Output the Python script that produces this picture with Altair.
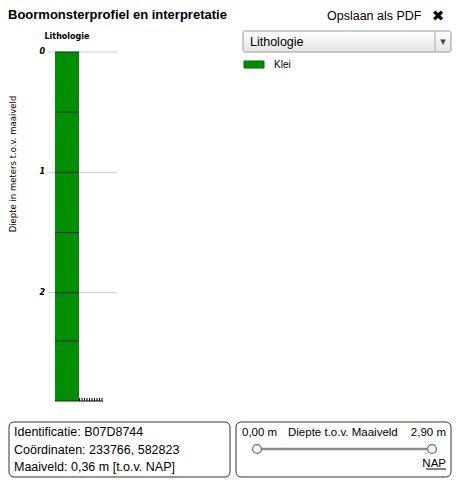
import altair as alt
import pandas as pd

# ---- data ----
depth_top = [0.0, 0.5, 1.0, 1.5, 2.0, 2.4]
depth_bottom = [0.5, 1.0, 1.5, 2.0, 2.4, 2.9]
lithology = ["Klei", "Klei", "Klei", "Klei", "Klei", "Klei"]
depth_ticks = [0, 1, 2]
litho_names = ["Klei"]
litho_colors = ["#008f00"]

title_text = "Boormonsterprofiel en interpretatie"
column_title = "Lithologie"
axis_title = "Diepte in meters t.o.v. maaiveld"
info_lines = ["Identificatie: B07D8744", "Coördinaten: 233766, 582823", "Maaiveld: 0,36 m [t.o.v. NAP]"]
slider_labels = ["0,00 m", "Diepte t.o.v. Maaiveld", "2,90 m"]

FONT = "Liberation Sans"

layers_df = pd.DataFrame({"top": depth_top, "bottom": depth_bottom, "lith": lithology})
bounds_df = pd.DataFrame({"depth": depth_top + [depth_bottom[-1]]})
ticks_df = pd.DataFrame({"depth": depth_ticks, "label": [str(t) for t in depth_ticks]})
end_df = pd.DataFrame({"depth": [depth_bottom[-1]]})

yscale = alt.Scale(domain=[0, depth_bottom[-1]], range=[44, 393], nice=False, zero=False)
one = pd.DataFrame({"k": [0]})


def txt(text, x, y, size=12, weight="normal", align="left", baseline="alphabetic", angle=0, style="normal", color="#000", font=FONT):
    return alt.Chart(one).mark_text(
        text=text, fontSize=size, fontWeight=weight, align=align, baseline=baseline,
        angle=angle, fontStyle=style, color=color, font=font
    ).encode(x=alt.value(x), y=alt.value(y))


def box(x, x2, y, y2, fill="#fff", stroke="#333", radius=0, sw=1):
    return alt.Chart(one).mark_rect(fill=fill, stroke=stroke, cornerRadius=radius, strokeWidth=sw).encode(
        x=alt.value(x), x2=alt.value(x2), y=alt.value(y), y2=alt.value(y2))


def hline(x, x2, y, color="#000", sw=1):
    return alt.Chart(one).mark_rule(color=color, strokeWidth=sw).encode(
        x=alt.value(x), x2=alt.value(x2), y=alt.value(y))


grid = alt.Chart(ticks_df).mark_rule(color="#cccccc").encode(
    x=alt.value(40), x2=alt.value(109),
    y=alt.Y("depth:Q", scale=yscale, axis=None))

bars = alt.Chart(layers_df).mark_rect().encode(
    x=alt.value(47), x2=alt.value(71),
    y=alt.Y("top:Q", scale=yscale, axis=None), y2="bottom:Q",
    color=alt.Color("lith:N", scale=alt.Scale(domain=litho_names, range=litho_colors), legend=None))

bounds = alt.Chart(bounds_df).mark_rule(color="#1d2a1d").encode(
    x=alt.value(47), x2=alt.value(71), y=alt.Y("depth:Q", scale=yscale, axis=None))

tick_labels = alt.Chart(ticks_df).mark_text(
    font="DejaVu Sans", fontSize=8, fontWeight="bold", fontStyle="italic", align="right", baseline="middle"
).encode(x=alt.value(37), y=alt.Y("depth:Q", scale=yscale, axis=None), text="label:N")

ruler = alt.Chart(end_df).mark_rule(color="#000").encode(
    x=alt.value(71), x2=alt.value(95), y=alt.Y("depth:Q", scale=yscale, axis=None))
ruler_ticks = alt.Chart(end_df).mark_rule(color="#000", strokeDash=[1, 1.5], strokeWidth=3, yOffset=-1.5).encode(
    x=alt.value(71), x2=alt.value(95), y=alt.Y("depth:Q", scale=yscale, axis=None))

grad = alt.LinearGradient(gradient="linear", x1=0, x2=0, y1=0, y2=1,
                          stops=[alt.GradientStop(color="#ffffff", offset=0),
                                 alt.GradientStop(color="#e4e4e4", offset=1)])
dropdown = alt.Chart(one).mark_rect(fill=grad, stroke="#9a9a9a", cornerRadius=2).encode(
    x=alt.value(235), x2=alt.value(443), y=alt.value(23), y2=alt.value(44))
divider = alt.Chart(one).mark_rule(color="#a8a8a8").encode(
    x=alt.value(427), y=alt.value(24), y2=alt.value(43))

slider_line = hline(249, 424, 441, color="#8a8a8a", sw=2.5)
knobs = alt.Chart(pd.DataFrame({"k": [0, 1]})).mark_point(
    filled=True, fill="#f4f4f4", stroke="#777", strokeWidth=1.2, size=80, opacity=1, shape="circle"
).encode(x=alt.X("k:Q", scale=alt.Scale(domain=[0, 1], range=[249, 424]), axis=None), y=alt.value(441))

chart = alt.layer(
    grid, bars, bounds, tick_labels, ruler, ruler_ticks,
    txt(title_text, 0, 11, size=13, weight="bold"),
    txt("Opslaan als PDF", 319, 12, size=12.5),
    txt("✖", 430, 12.5, size=15, font="DejaVu Sans", align="center"),
    txt(column_title, 59, 31, size=8, weight="bold", align="center", font="DejaVu Sans"),
    txt(axis_title, 5, 156, size=8.5, angle=270, align="center", baseline="middle", font="DejaVu Sans"),
    dropdown, divider,
    txt("Lithologie", 242, 34, size=12.5, baseline="middle"),
    txt("▾", 435, 34, size=11, align="center", baseline="middle", color="#444", font="DejaVu Sans"),
    box(236, 256, 53, 60, fill="#008f00", stroke="#006600"),
    txt("Klei", 266, 57, size=10, baseline="middle"),
    box(1, 222, 414, 469, radius=5),
    box(228, 443, 414, 469, radius=5),
    txt(info_lines[0], 6, 428, size=12.5),
    txt(info_lines[1], 6, 446, size=12.5),
    txt(info_lines[2], 6, 463, size=12.5),
    txt(slider_labels[0], 234, 428, size=11.5),
    txt(slider_labels[1], 280, 428, size=11.5),
    txt(slider_labels[2], 438, 428, size=11.5, align="right"),
    slider_line, knobs,
    txt("NAP", 438, 459, size=11.5, align="right"),
    hline(418, 438, 461, sw=1),
).properties(width=444, height=470, padding=0, autosize="none").configure_view(stroke=None)

chart.save("out.html", embed_options={"renderer": "svg", "actions": False})
